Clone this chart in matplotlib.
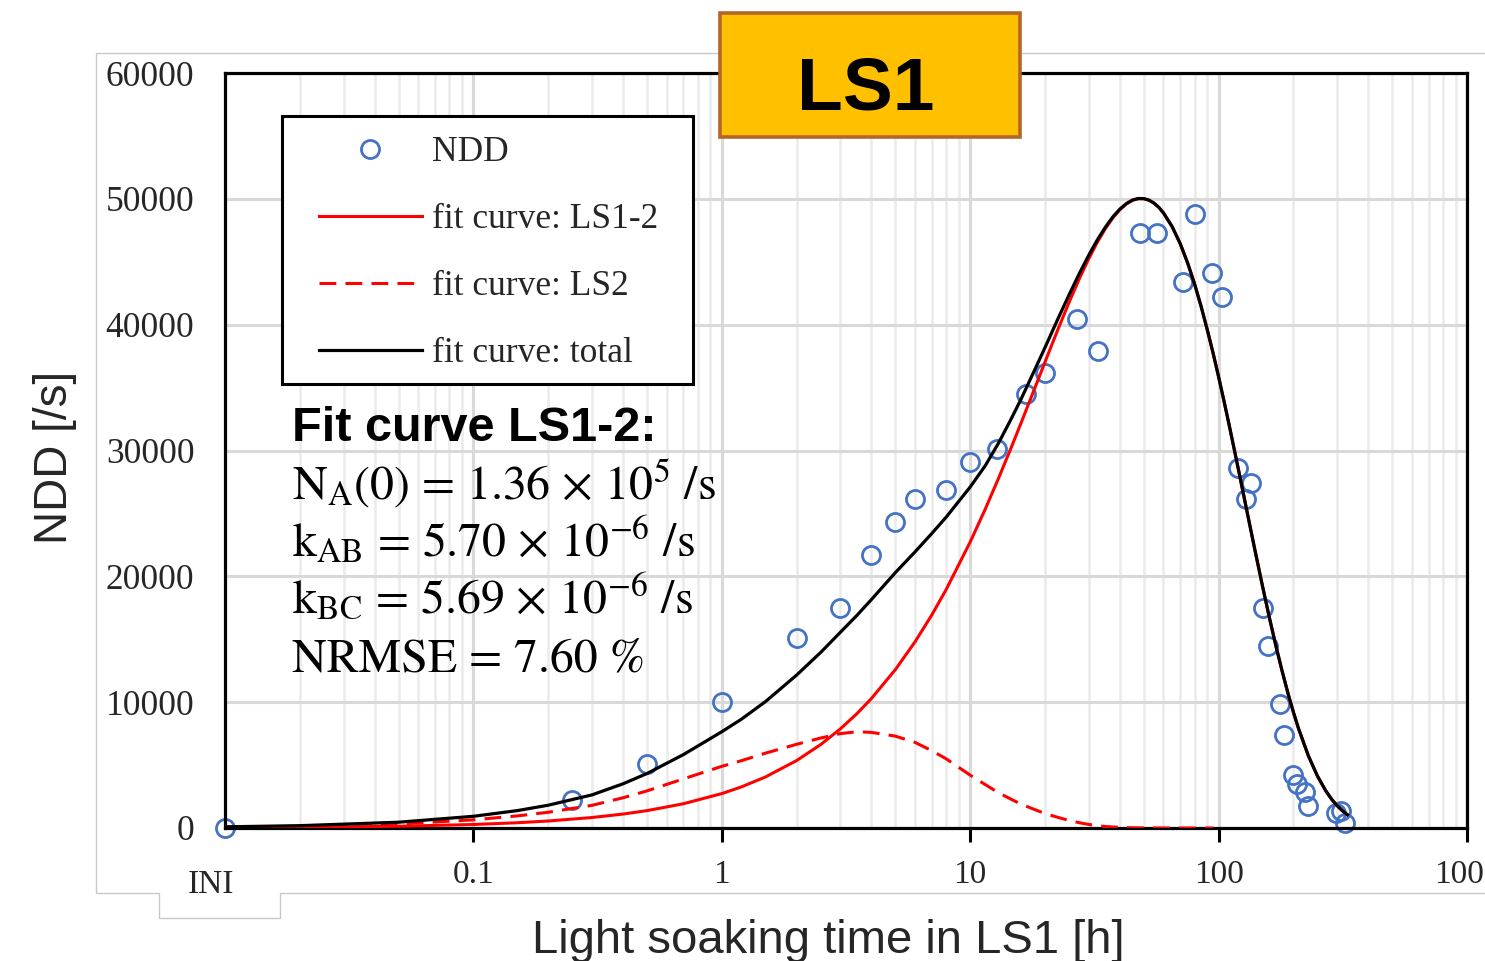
import matplotlib
matplotlib.use('Agg')
import matplotlib.pyplot as plt
from matplotlib.patches import Rectangle
from matplotlib.lines import Line2D
from matplotlib.ticker import LogLocator, NullFormatter
from matplotlib.font_manager import FontProperties

plt.rcParams['font.family'] = ['Liberation Serif', 'DejaVu Serif']
plt.rcParams['mathtext.fontset'] = 'stix'

# ---------------- data ----------------
ndd_time = [0.01, 0.25, 0.5, 1, 2, 3, 4, 5, 6, 8, 10, 12.8, 16.7, 20, 26.8, 32.6,
            48.2, 56.4, 72.1, 80, 94.4, 103, 120, 128.5, 134.7, 151.4, 158.5,
            176.6, 183.3, 199.7, 206, 222, 229, 298, 310, 322]
ndd_value = [0, 2200, 5100, 10050, 15100, 17500, 21700, 24300, 26150, 26870, 29050,
             30150, 34480, 36160, 40450, 37880, 47290, 47290, 43370, 48800, 44090,
             42180, 28620, 26130, 27400, 17520, 14460, 9820, 7360, 4180, 3460, 2850,
             1730, 1210, 1340, 410]

fit_time = [0.01, 0.02, 0.05, 0.1, 0.15, 0.2, 0.3, 0.4, 0.5, 0.7,
            1, 1.2, 1.5, 2, 2.5, 3, 3.5, 4, 5, 6,
            7, 8, 10, 11.5, 13, 14.5, 16, 18, 20, 22.5,
            25, 27.5, 30, 32.5, 35, 37.5, 40, 42.5, 45, 47.5,
            50, 52.5, 55, 57.5, 60, 65, 70, 75, 80, 85,
            90, 95, 100, 105, 110, 115, 120, 130, 140, 150,
            160, 170, 180, 190, 200, 210, 230, 250, 270, 285,
            300, 315, 330]
fit_ls12 = [28, 56, 140, 278, 417, 556, 832, 1107, 1381, 1926,
            2734, 3267, 4059, 5357, 6628, 7872, 9091, 10283, 12593, 14804,
            16921, 18946, 22730, 25348, 27786, 30051, 32154, 34720, 37028, 39572,
            41770, 43648, 45235, 46554, 47627, 48480, 49128, 49587, 49881, 50015,
            50010, 49891, 49654, 49313, 48877, 47791, 46454, 44919, 43245, 41462,
            39609, 37745, 35858, 33973, 32129, 30306, 28552, 25192, 22098, 19281,
            16744, 14494, 12503, 10743, 9209, 7877, 5723, 4128, 2957, 2292,
            1775, 1370, 1055]
fit_total = [93, 186, 460, 930, 1380, 1810, 2630, 3510, 4330, 5830,
             7650, 8650, 10050, 12150, 13950, 15550, 16900, 18150, 20300, 21950,
             23400, 24700, 27100, 28798, 30586, 32371, 34054, 36220, 38178, 40422,
             42370, 44068, 45515, 46744, 47747, 48560, 49178, 49619, 49901, 50027,
             50018, 49891, 49654, 49313, 48877, 47791, 46454, 44919, 43245, 41462,
             39609, 37745, 35858, 33973, 32129, 30306, 28552, 25192, 22098, 19281,
             16744, 14494, 12503, 10743, 9209, 7877, 5723, 4128, 2957, 2292,
             1775, 1370, 1055]

ls2_time = [0.01, 0.02, 0.05, 0.1, 0.15, 0.2, 0.3, 0.4, 0.5, 0.7, 1, 1.2, 1.5, 2,
            2.5, 3, 3.5, 4, 5, 6, 7, 8, 10, 11.5, 13, 14.5, 16, 18, 20, 22.5, 25,
            27.5, 30, 32.5, 35, 37.5, 40, 42.5, 45, 47.5, 50, 60, 70, 80, 95]
ls2_value = [65, 130, 320, 650, 960, 1250, 1800, 2400, 2950, 3900, 4900, 5350, 5950,
             6650, 7150, 7500, 7650, 7600, 7300, 6800, 6150, 5500, 4200, 3450, 2800,
             2320, 1900, 1500, 1150, 850, 600, 420, 280, 190, 120, 80, 50, 32, 20,
             12, 8, 0, 0, 0, 0]

y_ticks = [0, 10000, 20000, 30000, 40000, 50000, 60000]
x_ticks = [0.1, 1, 10, 100, 1000]
x_ticklabels = ['0.1', '1', '10', '100', '1000']
legend_labels = ['NDD', 'fit curve: LS1-2', 'fit curve: LS2', 'fit curve: total']

W, H = 1485, 961
def fx(px):
    return px / W
def fy(py):
    return 1 - py / H

TXT = '#262626'

fig = plt.figure(figsize=(14.85, 9.61), dpi=100)
fig.patch.set_facecolor('white')

# chart-area border (light gray) with tab for INI
bx = [1485, 96, 96, 159, 159, 280, 280, 1485]
by = [53, 53, 893, 893, 918, 918, 893, 893]
fig.add_artist(Line2D([fx(v) for v in bx], [fy(v) for v in by],
                      transform=fig.transFigure, color='#C8C8C8', lw=1.0, zorder=-1))

ax = fig.add_axes([fx(225), fy(828), fx(1467) - fx(225), fy(73) - fy(828)])
ax.set_xscale('log')
ax.set_xlim(0.01, 1000)
ax.set_ylim(0, 60000)

ax.set_xticks(x_ticks)
ax.set_xticklabels(x_ticklabels)
ax.xaxis.set_minor_locator(LogLocator(base=10, subs=[2, 3, 4, 5, 6, 7, 8, 9], numticks=20))
ax.xaxis.set_minor_formatter(NullFormatter())
ax.set_yticks(y_ticks)
ax.set_yticklabels([str(v) for v in y_ticks])

ax.tick_params(axis='x', which='major', direction='out', length=10, width=2.2,
               pad=13, labelsize=24, labelcolor=TXT, color='black')
ax.tick_params(axis='x', which='minor', length=0)
ax.tick_params(axis='y', which='both', length=0, pad=22, labelsize=25.5, labelcolor=TXT)

ax.set_axisbelow(True)
ax.grid(True, which='major', axis='both', color='#D9D9D9', lw=2.2)
ax.grid(True, which='minor', axis='x', color='#EBEBEB', lw=1.8)

for s in ax.spines.values():
    s.set_linewidth(2.3)
    s.set_color('black')

pts, = ax.plot(ndd_time, ndd_value, 'o', mfc='none', mec='#4472C4', ms=13, mew=2.0,
               zorder=2.5, clip_on=False)
l12, = ax.plot(fit_time, fit_ls12, color='#FF0000', lw=2.2, zorder=3)
l2, = ax.plot(ls2_time, ls2_value, color='#FF0000', lw=2.2, ls=(0, (5.5, 3)), zorder=3)
lt, = ax.plot(fit_time, fit_total, color='black', lw=2.3, zorder=4)

# legend frame + legend
ax.add_patch(Rectangle((fx(282), fy(384)), fx(693) - fx(282), fy(116) - fy(384),
                       transform=fig.transFigure, fc='white', ec='black', lw=2.2,
                       zorder=4.5, clip_on=False))
leg = ax.legend([pts, l12, l2, lt], legend_labels, loc='upper left',
                bbox_to_anchor=(fx(319), fy(136)), bbox_transform=fig.transFigure,
                frameon=False, borderpad=0, borderaxespad=0, handlelength=2.9,
                handletextpad=0.3, labelspacing=0.96, numpoints=1,
                prop=FontProperties(family='Liberation Serif', size=25.5))
leg.set_zorder(5)
for t in leg.get_texts():
    t.set_color(TXT)

# fit parameters text
ax.text(fx(292), fy(441), 'Fit curve LS1-2:', transform=fig.transFigure,
        family='Liberation Sans', weight='bold', size=35, va='baseline', ha='left',
        color='black', zorder=6)
param_lines = [r'N$_\mathrm{A}$(0) = 1.36 × 10$^{5}$ /s',
               r'k$_\mathrm{AB}$ = 5.70 × 10$^{-6}$ /s',
               r'k$_\mathrm{BC}$ = 5.69 × 10$^{-6}$ /s',
               'NRMSE = 7.60 %']
for txt, yb in zip(param_lines, [499, 557, 613, 672]):
    ax.text(fx(292), fy(yb), txt, transform=fig.transFigure, family='STIXGeneral',
            size=34.5, va='baseline', ha='left', color='black', zorder=6)

# INI label
fig.text(fx(211), fy(885), 'INI', ha='center', va='center', size=24,
         family='Liberation Serif', color=TXT)

# axis titles
fig.text(fx(55), fy(457), 'NDD [/s]', rotation=90, ha='center', va='center',
         size=33, family='Liberation Sans', color=TXT)
fig.text(fx(828), fy(953), 'Light soaking time in LS1 [h]', ha='center', va='baseline',
         size=34, family='Liberation Sans', color=TXT)

# LS1 badge
fig.add_artist(Rectangle((fx(720), fy(137)), fx(1020) - fx(720), fy(13) - fy(137),
                         transform=fig.transFigure, fc='#FFC000', ec='#B4662A',
                         lw=2.6, zorder=10))
fig.text(fx(866), fy(110), 'LS1', ha='center', va='baseline', size=54,
         family='Liberation Sans', weight='bold', color='black', zorder=11)

fig.savefig('out.png', dpi=100)
